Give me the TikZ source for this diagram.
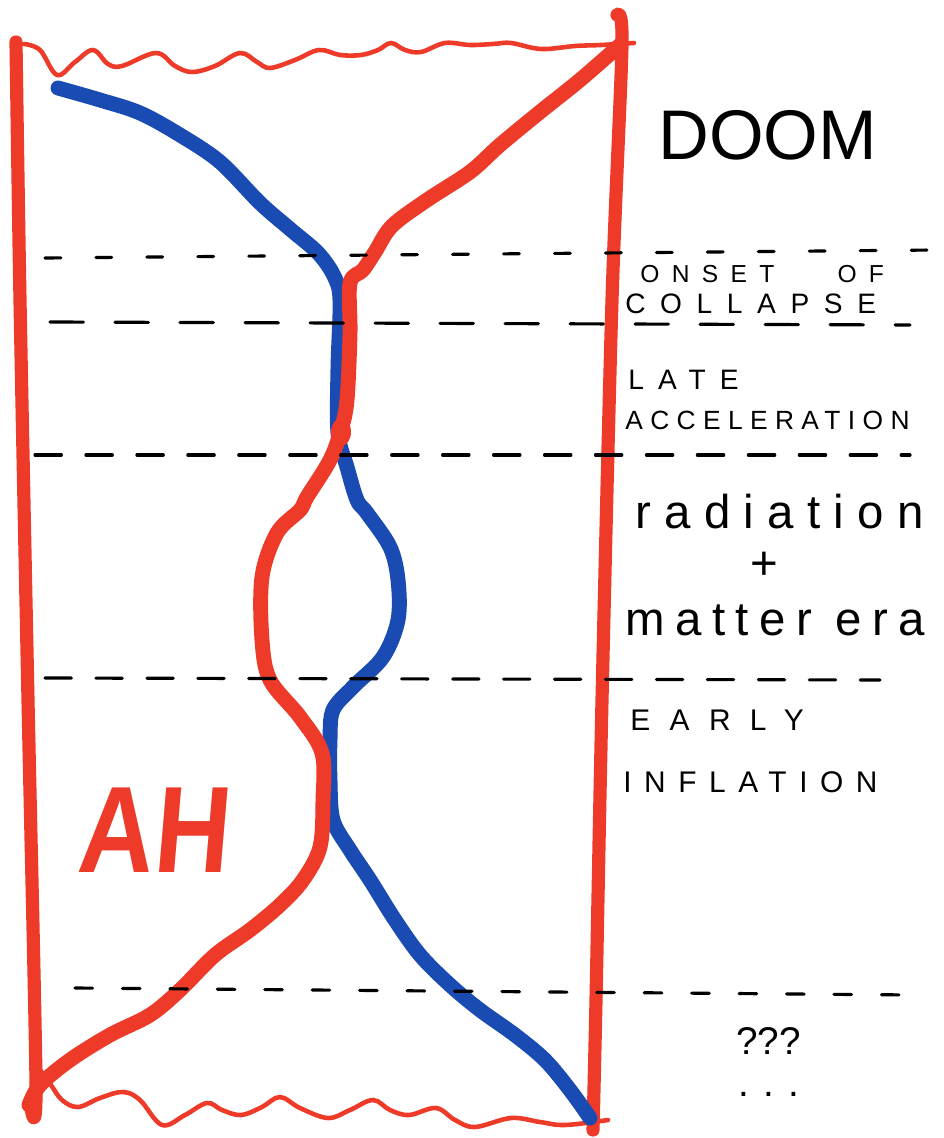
\documentclass[tikz,border=0pt]{standalone}
\usepackage{fontspec}
\setmainfont{Liberation Sans}
\definecolor{inkred}{HTML}{EE3A28}
\definecolor{inkblue}{HTML}{1A4BB2}
\tikzset{
  wall/.style={draw=inkred, line width=7.5pt, line cap=round, line join=round},
  redpath/.style={draw=inkred, line width=8.5pt, line cap=round, line join=round},
  bluepath/.style={draw=inkblue, line width=8.5pt, line cap=round, line join=round},
  wave/.style={draw=inkred, line width=2.6pt, line cap=round},
  epoch/.style={draw=black, line width=1.8pt, line cap=round},
  era/.style={anchor=west, inner sep=0pt, text=black}
}
\begin{document}
\begin{tikzpicture}[x=0.02cm, y=-0.02cm]
\useasboundingbox (0,0) rectangle (943,1138);

% walls of the diagram
\draw[wall] plot[smooth, tension=0.5] coordinates {(16,42) (20,300) (28,700) (36,1085) (31,1108)};
\draw[wall] plot[smooth, tension=0.5] coordinates {(617,15) (622,45) (612,300) (602,700) (596,1000) (593,1130)};

% wavy top and bottom
\draw[wave] plot[smooth, tension=0.6] coordinates {(24,44) (40,50) (57,75) (75,62) (93,50) (108,64) (122,66) (156,53) (175,66) (192,72) (215,66) (240,53) (257,62) (270,68) (295,60) (319,50) (340,55) (361,55) (378,50) (391,43) (405,50) (421,52) (445,43) (470,45) (493,44) (511,43) (541,49) (575,46) (601,45) (634,43)};
\draw[wave] plot[smooth, tension=0.6] coordinates {(40,1070) (51,1085) (62,1100) (78,1107) (100,1098) (123,1092) (140,1100) (162,1125) (185,1115) (207,1103) (222,1110) (241,1115) (262,1107) (280,1097) (300,1108) (328,1118) (350,1110) (373,1100) (390,1110) (409,1115) (436,1108) (455,1120) (475,1127) (511,1118) (540,1122) (565,1125) (608,1120)};

% blue path
\draw[bluepath] plot[smooth, tension=0.55] coordinates {(58,88) (100,100) (140,113) (180,135) (220,162) (260,203) (290,229) (318,253) (334,276) (340,300) (338,367) (338,433) (347,467) (357,500) (367,513) (390,547) (398,580) (398,620) (383,657) (353,687) (333,710) (330,740) (330,780) (333,820) (350,850) (370,880) (395,920) (420,955) (450,985) (480,1010) (515,1035) (545,1060) (570,1090) (590,1118)};

% red path
\draw[redpath] plot[smooth, tension=0.55] coordinates {(620,45) (580,80) (540,112) (500,145) (470,172) (427,200) (392,226) (375,252) (363,270) (350,283) (350,333) (347,400) (341,430) (330,460) (307,497) (300,510) (277,533) (262,577) (262,640) (270,680) (300,717) (322,753) (323,800) (320,847) (303,880) (280,905) (250,930) (215,955) (180,990) (150,1015) (110,1035) (70,1060) (40,1085) (29,1105)};
\fill[inkred] (341,432) ellipse (10 and 14);

% epoch lines
\draw[epoch, dash pattern=on 9pt off 20pt] (45,258) -- (935,250);
\draw[epoch, dash pattern=on 19pt off 18pt] (50,322) -- (910,325);
\draw[epoch, dash pattern=on 15pt off 14pt] (35,455) -- (910,455);
\draw[epoch, dash pattern=on 15pt off 14pt] (45,678) -- (880,680);
\draw[epoch, dash pattern=on 10pt off 17pt] (75,988) -- (915,995);

% labels
\node[era, font=\fontsize{40}{40}\selectfont] (doom) at (658,135) {DOOM};
\node[era, font=\fontsize{14}{14}\selectfont\addfontfeatures{LetterSpace=50}] (onset) at (640,274) {ONSET\hspace{36pt}OF};
\node[era, font=\fontsize{16}{16}\selectfont\addfontfeatures{LetterSpace=52}] (collapse) at (625,304) {COLLAPSE};
\node[era, font=\fontsize{16}{16}\selectfont\addfontfeatures{LetterSpace=50}] (late) at (628,380) {LATE};
\node[era, font=\fontsize{15}{15}\selectfont\addfontfeatures{LetterSpace=28}] (accel) at (625,420) {ACCELERATION};
\node[era, font=\fontsize{27}{27}\selectfont\addfontfeatures{LetterSpace=28}] (rad) at (635,512) {radiation};
\node[era, font=\fontsize{27}{27}\selectfont] (plus) at (750,566) {+};
\node[era, font=\fontsize{27}{27}\selectfont\addfontfeatures{LetterSpace=22}] (matter) at (625,620) {matter era};
\node[era, font=\fontsize{17}{17}\selectfont\addfontfeatures{LetterSpace=65}] (early) at (630,720) {EARLY};
\node[era, font=\fontsize{17}{17}\selectfont\addfontfeatures{LetterSpace=42}] (inflation) at (623,782) {INFLATION};
\node[era, align=center, font=\fontsize{22}{24}\selectfont] (unknown) at (736,1062) {???\\. . .};
\node[era, text=inkred, font=\bfseries\fontsize{70}{70}\selectfont, xscale=0.85, xslant=0.1] (ah) at (80,830) {AH};
\end{tikzpicture}
\end{document}
